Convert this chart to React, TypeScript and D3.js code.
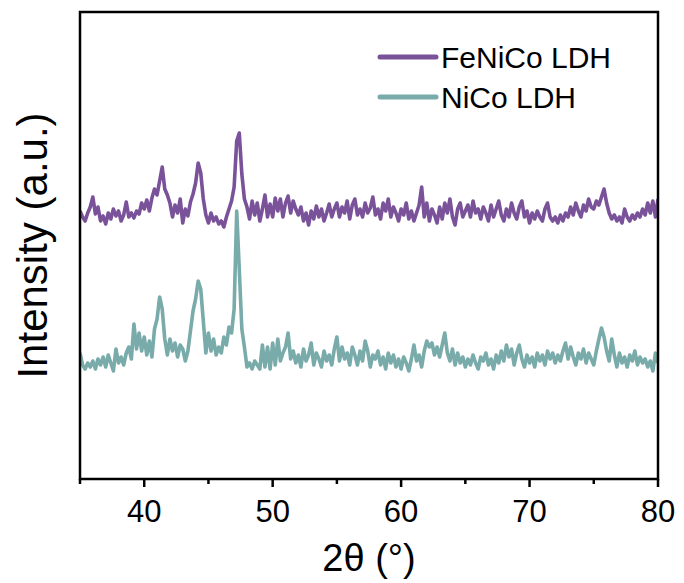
import React from "react";
import * as d3 from "d3";

const twoTheta: number[] = d3.range(0, 226).map((i) => 35 + i * 0.2);

const feNiCo: number[] = [
  268, 262, 258, 266, 272,
  282, 265, 272, 258, 263,
  255, 266, 260, 270, 263,
  268, 258, 264, 277, 262,
  266, 261, 268, 265, 276,
  270, 279, 268, 281, 290,
  284, 298, 312, 290, 284,
  276, 262, 274, 266, 280,
  256, 270, 263, 277, 285,
  296, 316, 306, 280, 264,
  256, 266, 258, 262, 255,
  258, 252, 262, 270, 278,
  292, 338, 346, 305, 280,
  272, 260, 278, 264, 276,
  258, 270, 284, 262, 275,
  262, 281, 268, 280, 262,
  276, 283, 266, 278, 270,
  264, 272, 258, 266, 254,
  268, 260, 273, 262, 270,
  258, 266, 275, 262, 270,
  276, 262, 272, 266, 278,
  260, 274, 280, 264, 270,
  262, 276, 266, 271, 282,
  264, 270, 260, 276, 268,
  280, 262, 272, 266, 258,
  270, 264, 276, 260, 268,
  258, 266, 274, 292, 262,
  276, 258, 270, 264, 256,
  272, 260, 276, 266, 280,
  262, 254, 270, 276, 262,
  268, 274, 262, 278, 266,
  270, 260, 272, 266, 258,
  274, 262, 270, 278, 264,
  258, 270, 262, 276, 266,
  260, 272, 278, 262, 268,
  256, 266, 260, 268, 262,
  258, 270, 276, 262, 258,
  262, 256, 264, 258, 266,
  262, 272, 264, 276, 268,
  262, 274, 268, 280, 272,
  270, 278, 274, 282, 290,
  276, 266, 260, 264, 258,
  262, 256, 270, 262, 258,
  264, 260, 266, 262, 270,
  264, 276, 266, 278, 262,
  280,
];

const niCo: number[] = [
  126, 114, 110, 116, 112,
  118, 110, 120, 114, 122,
  112, 124, 116, 108, 130,
  116, 122, 114, 126, 132,
  120, 155, 130, 146, 128,
  142, 124, 138, 122, 150,
  160, 182, 170, 140, 124,
  140, 128, 136, 122, 134,
  130, 118, 128, 148, 168,
  180, 198, 190, 158, 126,
  146, 128, 140, 124, 132,
  126, 142, 134, 152, 146,
  170, 268, 210, 150, 132,
  112, 116, 110, 118, 114,
  110, 134, 112, 132, 110,
  136, 114, 140, 118, 126,
  132, 146, 120, 128, 116,
  124, 112, 130, 118, 124,
  136, 114, 126, 120, 112,
  128, 118, 124, 114, 130,
  142, 118, 132, 120, 126,
  114, 132, 124, 114, 128,
  118, 138, 128, 112, 124,
  120, 128, 114, 122, 110,
  126, 116, 124, 112, 120,
  110, 122, 116, 108, 120,
  134, 118, 124, 112, 128,
  138, 132, 136, 124, 132,
  122, 134, 146, 126, 118,
  130, 114, 126, 116, 122,
  112, 120, 114, 124, 116,
  110, 122, 118, 126, 114,
  120, 110, 124, 116, 128,
  118, 134, 122, 130, 114,
  126, 134, 120, 112, 124,
  116, 122, 112, 126, 118,
  124, 114, 128, 120, 126,
  116, 124, 118, 128, 136,
  120, 132, 122, 114, 126,
  120, 130, 116, 126, 120,
  114, 128, 140, 151, 142,
  128, 118, 140, 124, 112,
  126, 116, 122, 112, 124,
  118, 128, 114, 122, 116,
  120, 112, 118, 108, 126,
  116,
];

const seriesNames: string[] = ["FeNiCo LDH", "NiCo LDH"];
const seriesColors: string[] = ["#7a5299", "#78abaa"];
const xTicks: number[] = [40, 50, 60, 70, 80];
const xMinorTicks: number[] = [35, 45, 55, 65, 75];

const W = 684;
const H = 583;
const m = { left: 80, right: 658, top: 12, bottom: 479 };
const FONT = "Arial, 'Liberation Sans', sans-serif";

export default function App() {
  const x = d3.scaleLinear().domain([35, 80]).range([m.left, m.right]);
  const y = d3.scaleLinear().domain([0, 467]).range([m.bottom, m.top]);
  const line = d3
    .line<number>()
    .x((_, i) => x(twoTheta[i]))
    .y((d) => y(d));
  const series = [feNiCo, niCo];

  return (
    <svg
      width={W}
      height={H}
      style={{ position: "absolute", left: 0, top: 0, background: "#fff" }}
    >
      <defs>
        <clipPath id="plotclip">
          <rect x={m.left} y={m.top} width={m.right - m.left} height={m.bottom - m.top} />
        </clipPath>
      </defs>
      <g clipPath="url(#plotclip)">
        {[1, 0].map((si) => (
          <path
            key={si}
            d={line(series[si]) || ""}
            fill="none"
            stroke={seriesColors[si]}
            strokeWidth={3.6}
            strokeLinejoin="round"
          />
        ))}
      </g>
      <rect
        x={m.left}
        y={m.top}
        width={m.right - m.left}
        height={m.bottom - m.top}
        fill="none"
        stroke="#000"
        strokeWidth={2.5}
      />
      {xTicks.map((t) => (
        <g key={"t" + t}>
          <line x1={x(t)} x2={x(t)} y1={m.bottom} y2={m.bottom + 8} stroke="#000" strokeWidth={2.5} />
          <text
            x={x(t)}
            y={m.bottom + 43}
            textAnchor="middle"
            fontFamily={FONT}
            fontSize={31}
          >
            {t}
          </text>
        </g>
      ))}
      {xMinorTicks.map((t) => (
        <line key={"m" + t} x1={x(t)} x2={x(t)} y1={m.bottom} y2={m.bottom + 5} stroke="#000" strokeWidth={2.5} />
      ))}
      <text
        x={(m.left + m.right) / 2}
        y={571}
        textAnchor="middle"
        fontFamily={FONT}
        fontSize={38}
      >
        2θ (°)
      </text>
      <text
        transform={`translate(47, ${(m.top + m.bottom) / 2}) rotate(-90)`}
        textAnchor="middle"
        fontFamily={FONT}
        fontSize={42}
      >
        Intensity (a.u.)
      </text>
      {seriesNames.map((name, i) => (
        <g key={name}>
          <line
            x1={380}
            x2={436}
            y1={57 + i * 40}
            y2={57 + i * 40}
            stroke={seriesColors[i]}
            strokeWidth={5}
            strokeLinecap="round"
          />
          <text x={441} y={57 + i * 40 + 11} fontFamily={FONT} fontSize={30}>
            {name}
          </text>
        </g>
      ))}
    </svg>
  );
}
